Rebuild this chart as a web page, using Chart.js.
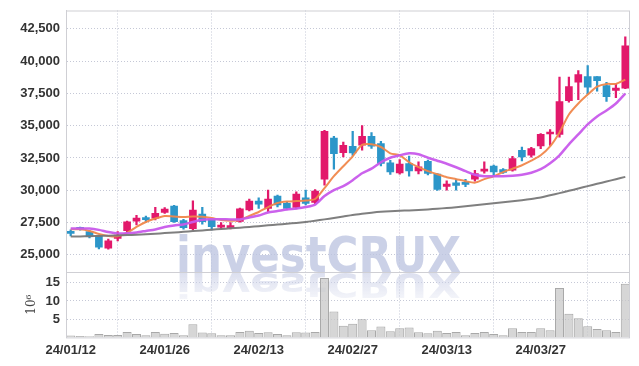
<!DOCTYPE html>
<html><head><meta charset="utf-8">
<script src="https://cdn.jsdelivr.net/npm/chart.js@4.4.1/dist/chart.umd.min.js"></script>
<style>html,body{margin:0;padding:0;background:#fff}#wrap{width:639px;height:366px}</style>
</head><body><div id="wrap"><canvas id="c" width="639" height="366"></canvas></div>
<script>
const dates = ['24/01/12','24/01/15','24/01/16','24/01/17','24/01/18','24/01/19','24/01/22','24/01/23','24/01/24','24/01/25',
'24/01/26','24/01/29','24/01/30','24/01/31','24/02/01','24/02/02','24/02/05','24/02/06','24/02/07','24/02/08',
'24/02/13','24/02/14','24/02/15','24/02/16','24/02/19','24/02/20','24/02/21','24/02/22','24/02/23','24/02/26',
'24/02/27','24/02/28','24/02/29','24/03/04','24/03/05','24/03/06','24/03/07','24/03/08','24/03/11','24/03/12',
'24/03/13','24/03/14','24/03/15','24/03/18','24/03/19','24/03/20','24/03/21','24/03/22','24/03/25','24/03/26',
'24/03/27','24/03/28','24/03/29','24/04/01','24/04/02','24/04/03','24/04/04','24/04/05','24/04/08','24/04/09'];
const openP = [26700,27000,26800,26465,25520,26260,26870,27600,27760,27830,
28290,28780,27650,27030,28160,27750,27140,27100,27590,28470,
29160,28600,29550,28990,28680,29420,29060,30860,34050,32920,
33410,33490,34180,33620,32120,31350,32070,31500,32250,31250,
30300,30580,30500,30860,31480,31870,31610,31550,33100,32710,
33430,34360,34330,36950,38370,38800,38800,38110,37730,37910];
const highP = [26930,27150,26880,26540,26210,26800,27620,28060,28000,28680,
28650,28830,27750,29190,28680,27800,27490,27490,28620,29320,
29420,30010,29620,29100,29880,30010,30060,34650,34180,33740,
34570,35020,34460,33800,32320,32380,32640,32200,32330,31300,
30730,30860,30840,31550,32200,31950,31680,32630,33350,33330,
34400,34700,38760,38760,39270,39650,38800,38370,38240,41890];
const lowP = [26470,26900,26300,25460,25440,26080,26720,27310,27520,27700,
28200,27500,26980,26930,27370,26930,27000,27000,27520,28390,
28600,28340,28700,28500,28550,28870,28960,30400,31630,32580,
32700,33100,33250,31890,31220,31250,31090,31270,31190,29990,
30010,30010,30280,30710,31320,31170,31300,31480,32280,32560,
33230,33480,34120,36830,37010,37470,37670,36880,37170,37870];
const closeP = [26660,26970,26420,25590,26080,26520,27545,27850,27720,28215,
28550,27570,27105,28470,27570,27180,27310,27260,28560,29160,
28930,29320,28860,28600,29700,28990,29940,34570,32840,33490,
32890,34180,33410,32070,31430,32020,31500,31810,31300,30070,
30480,30370,30460,31300,31630,31430,31380,32460,32580,33230,
34340,34490,36870,38030,38960,37980,38490,37260,37910,41190];
const ma5 = [26970,26970,26850,26620,26465,26430,26700,27160,27540,27810,
28010,27970,27930,27970,27950,27850,27700,27645,27700,28010,
28315,28700,29010,29125,29165,29200,29320,30170,31090,31860,
32630,33520,33560,33350,32860,32710,32170,31785,31480,31245,
31010,30860,30705,30590,30860,31090,31400,31670,31940,32290,
32710,33400,34480,35870,36720,37410,38030,38240,38240,38570];
const ma20 = [27040,27040,27030,26930,26770,26660,26670,26735,26850,26965,
27160,27275,27350,27545,27720,27750,27750,27740,27740,27890,
28045,28280,28390,28510,28585,28700,28890,29550,30010,30320,
30780,31320,31670,32170,32520,32710,32860,32790,32520,32290,
32055,31785,31480,31205,31090,31090,31090,31130,31205,31360,
31630,32090,32710,33560,34330,35100,35720,36180,36720,37490];
const ma60 = [26411,26426,26442,26465,26480,26503,26527,26557,26596,26635,
26681,26727,26781,26835,26889,26943,26997,27051,27105,27159,
27220,27282,27344,27406,27467,27544,27637,27745,27853,27968,
28084,28177,28261,28331,28377,28408,28439,28470,28516,28570,
28624,28685,28762,28840,28917,28994,29071,29148,29225,29318,
29433,29611,29780,29958,30135,30320,30497,30675,30860,31037];
const volume = [0.55,0.36,0.33,0.9,0.63,0.63,1.5,0.96,0.6,1.5,
1.0,1.24,0.6,3.64,1.32,1.16,0.6,0.6,1.5,1.8,
1.24,1.43,0.96,0.6,1.43,1.32,1.5,16.3,7.1,3.17,
3.72,5.0,1.98,2.98,1.7,2.53,2.7,1.43,1.16,1.85,
1.24,1.5,0.6,1.24,1.5,0.96,0.6,2.53,1.5,1.5,
2.53,1.98,13.55,6.47,5.29,3.09,2.34,1.98,1.5,14.74];
const priceTicks = [25000,27500,30000,32500,35000,37500,40000,42500];
const volumeTicks = [5,10,15];
const labelEvery = 10;

const UP = '#e2196b', DOWN = '#2c96c9';
const candleColor = closeP.map((c,i)=> c >= openP[i] ? UP : DOWN);
const FONT = '"Liberation Sans", Arial, sans-serif';
const TICKFONT = {family:FONT, size:13, weight:'bold'};

const watermark = {
  id:'watermark',
  beforeDatasetsDraw(chart){
    const ctx = chart.ctx;
    const base = chart.scales.y.bottom;
    ctx.save();
    ctx.font = 'bold 56px "DejaVu Sans", sans-serif';
    const w = ctx.measureText('investCRUX').width;
    const sx = 285 / w;
    ctx.textBaseline = 'alphabetic';
    ctx.fillStyle = 'rgba(188,196,224,0.78)';
    ctx.save();
    ctx.translate(176, base);
    ctx.scale(sx, 0.9);
    ctx.fillText('investCRUX', 0, 0);
    ctx.restore();
    ctx.save();
    ctx.beginPath(); ctx.rect(0, base, chart.width, 40); ctx.clip();
    ctx.translate(176, base + 1);
    ctx.scale(sx, -0.6);
    const g = ctx.createLinearGradient(0, 0, 0, -50);
    g.addColorStop(0, 'rgba(205,210,232,0.7)');
    g.addColorStop(1, 'rgba(205,210,232,0.15)');
    ctx.fillStyle = g;
    ctx.fillText('investCRUX', 0, 0);
    ctx.restore();
    ctx.restore();
  }
};
const frame = {
  id:'frame',
  afterDraw(chart){
    const {ctx, chartArea:a} = chart;
    ctx.save();
    ctx.strokeStyle = '#cfcfd4'; ctx.lineWidth = 1;
    ctx.strokeRect(a.left+0.5, a.top+0.5, a.right-a.left-1, a.bottom-a.top);
    const yb = Math.round(chart.scales.y.bottom)+0.5;
    ctx.beginPath(); ctx.moveTo(a.left, yb); ctx.lineTo(a.right, yb); ctx.stroke();
    ctx.restore();
  }
};
const fitY = s => { s.width = 66; s.paddingTop = 0; s.paddingBottom = 0; };

const lineDs = (data, color, width) => ({type:'line', data, borderColor:color, borderWidth:width, pointRadius:0, tension:0.25, yAxisID:'y', order:0, fill:false});

new Chart(document.getElementById('c'), {
  data: {
    labels: dates,
    datasets: [
      lineDs(ma60, 'rgba(120,120,120,0.95)', 2),
      lineDs(ma20, 'rgba(200,90,235,0.95)', 2.5),
      lineDs(ma5, 'rgba(240,135,75,0.95)', 2),
      {type:'bar', data: openP.map((o,i)=>[o, closeP[i]]), backgroundColor: candleColor, barThickness:7, minBarLength:2, grouped:false, yAxisID:'y', order:1},
      {type:'bar', data: lowP.map((l,i)=>[l, highP[i]]), backgroundColor: candleColor, barThickness:1.6, grouped:false, yAxisID:'y', order:2},
      {type:'bar', data: volume, backgroundColor:'rgba(200,200,200,0.75)', borderColor:'rgba(160,160,160,0.9)', borderWidth:1, barPercentage:1, categoryPercentage:0.96, grouped:false, yAxisID:'v', order:3}
    ]
  },
  options: {
    responsive:false, animation:false, devicePixelRatio:1,
    layout:{padding:{top:10.5, right:9, bottom:3, left:0}},
    plugins:{legend:{display:false}, tooltip:{enabled:false}},
    scales:{
      x:{
        type:'category', offset:true,
        afterBuildTicks(s){ s.ticks = s.ticks.filter(t => t.value % labelEvery === 0); },
        ticks:{autoSkip:false, maxRotation:0, color:'#333', padding:5, font:TICKFONT},
        grid:{color:'#c5c8d6', drawTicks:false},
        border:{display:false, dash:[1,2]}
      },
      v:{
        type:'linear', position:'left', stack:'p', stackWeight:1,
        min:0, max:17.96,
        afterBuildTicks(s){ s.ticks = volumeTicks.map(v=>({value:v})); },
        afterFit: fitY,
        title:{display:true, text:'10⁶', color:'#444', font:{family:'"DejaVu Serif", serif', size:12}, padding:{top:25, bottom:0}},
        ticks:{autoSkip:false, color:'#333', padding:6, font:TICKFONT},
        grid:{color:'#c5c8d6', drawTicks:false},
        border:{display:true, color:'#cfcfd4', dash:[1,2]}
      },
      y:{
        type:'linear', position:'left', stack:'p', stackWeight:4,
        min:23666, max:43926,
        afterBuildTicks(s){ s.ticks = priceTicks.map(v=>({value:v})); },
        afterFit: fitY,
        ticks:{autoSkip:false, color:'#333', padding:6, font:TICKFONT, callback:v=>v.toLocaleString('en-US')},
        grid:{color:'#c5c8d6', drawTicks:false},
        border:{display:true, color:'#cfcfd4', dash:[1,2]}
      }
    }
  },
  plugins:[watermark, frame]
});
</script></body></html>
